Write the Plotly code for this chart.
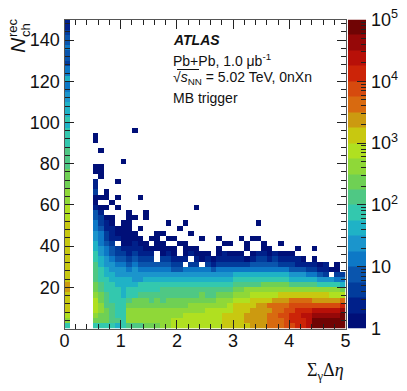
import plotly.graph_objects as go

W, H = 407, 391
FONT = "Liberation Sans"

# colour steps of the palette, bottom of the scale first (4 steps per decade)
level_colors = ['#000f78', '#00208a', '#023c9c', '#0a55ad', '#0d78c6', '#1b95cc', '#1fb2c6',
                '#33c8ae', '#4fc884', '#6fd054', '#8fd838', '#b0e020', '#c8c810', '#cc9a10',
                '#d86a10', '#d64a0e', '#cc2408', '#b81008', '#960808', '#700404']

x_edges = [i / 10 for i in range(51)]
y_edges = [i * 2.5 for i in range(61)]

# bin at sum-gap 0 - 0.1, from Nch = 0 upward (palette step of each bin)
gap0_levels = [7, 10, 11, 12, 12, 12, 12, 13, 13, 12, 12, 12, 12, 12, 12, 12, 12, 12, 12, 12,
               12, 11, 11, 11, 10, 10, 10, 9, 9, 9, 9, 8, 8, 8, 8, 7, 7, 7, 7, 6,
               7, 6, 6, 6, 5, 5, 4, 4, 6, 4, 4, 2, 3, 3, 4, 3, 3, 2, 1, 1]

# bins from sum-gap 0.5 to 5, lowest Nch row first, palette step in base 36, "." = empty
main_rows = [
    "77776 78889 99aab bbbbb bbbcc cccdd deeef fgghj jjjjj",
    "99988 7aaaa aaaab bbbbb bbbcc ccddd deeef ggghj jjjjj",
    "a9987 7aaaa aaaaa abbbb bbbcc ccddd deeff gghhi iiiij",
    "ba987 7aaaa aaaaa aaaaa bbbbb cccdd ddeef fgggh hhhhi",
    "ba887 79999 99999 99aaa aaaab ccccd deeee fffff ffffg",
    "b9877 78999 89899 99999 99aaa bbbcc ccddd eeeed dddde",
    "a9877 67788 88888 88889 88999 aaabb bbbcc ccccc ccbbb",
    "98777 67777 77888 88888 88888 99aaa aaaaa aaaaa aaaa9",
    "98776 66677 77777 77777 77777 88888 99999 88888 77776",
    "87766 66556 66666 66666 66666 77777 77777 66666 55544",
    "87665 55555 55555 55555 55555 66666 66666 55544 32.22",
    "87655 54544 44443 34444 43444 44444 44444 33322 1100.",
    "86554 43433 33332 2.22. 21222 22233 33322 21111 01.0.",
    "76543 32322 2.221 11.10 10111 11012 21211 110.0",
    "75432 21211 1.010 .0100 0.010 00.01 10100 0....",
    "65432 11110 00000 .000. ..0.. ..0.. 00... .0..0",
    "6432. 00100 .00.. 00... ...00 ..0.. 0..0.",
    "54211 0000. 00.00 ....0 ..0.. .0.00",
    "54210 000.. .00.. ..0..",
    "43110 00.0. ..... 0....",
    "4210. 00... ...0. .0... ..... ....0",
    "3200. .00.0",
    "31... .0..0",
    "100.0 ..... ..... ...0.",
    "0..0.",
    "000.0 ...0.",
    "2.0..",
    "1....",
    "1...0",
    ".0...",
    "00...",
    "00...",
    "..... 0....",
    "",
    ".0...",
    "",
    "0....",
    "0....",
    "..... ..0..",
]

x_ticks = [0, 1, 2, 3, 4, 5]
y_ticks = [20, 40, 60, 80, 100, 120, 140]
z_ticks = [1, 10, 100, 1000, 10000, 100000]
z_tick_text = ["1", "10", "10<sup>2</sup>", "10<sup>3</sup>", "10<sup>4</sup>", "10<sup>5</sup>"]
z_minor = [m * d for d in z_ticks[:-1] for m in range(2, 10)]


def level_to_z(level):
    return (level + 0.5) / 4


# one row of z per Nch bin
z = []
for r in range(len(y_edges) - 1):
    row = [level_to_z(gap0_levels[r]), None, None, None, None]
    text = main_rows[r].replace(" ", "") if r < len(main_rows) else ""
    for ch in text.ljust(45, "."):
        row.append(None if ch == "." else level_to_z(int(ch, 36)))
    z.append(row)

n = len(level_colors)
colorscale = []
for i, c in enumerate(level_colors):
    colorscale += [[i / n, c], [(i + 1) / n, c]]


def px(x):
    return x / W


def py(y):
    return 1 - y / H


fig = go.Figure()
fig.add_trace(go.Heatmap(x=x_edges, y=y_edges, z=z, zmin=0, zmax=5, colorscale=colorscale,
                         showscale=False, hoverongaps=False))
# palette strip drawn as its own log axis so it can carry minor ticks
bar_edges = [10 ** (i / 4) for i in range(n + 1)]
fig.add_trace(go.Heatmap(x=[0, 1], y=bar_edges, z=[[level_to_z(i)] for i in range(n)],
                         zmin=0, zmax=5, colorscale=colorscale, showscale=False,
                         xaxis="x2", yaxis="y2"))

axis_line = dict(showline=True, linecolor="#555555", linewidth=1, showgrid=False, zeroline=False,
                 ticks="inside", tickcolor="#222222", tickwidth=1, mirror="ticks", automargin=False,
                 tickfont=dict(family=FONT, size=18, color="#111111"))

fig.update_layout(
    template="none",
    width=W,
    height=H,
    margin=dict(l=0, r=0, t=0, b=0),
    paper_bgcolor="white",
    plot_bgcolor="white",
    showlegend=False,
    font=dict(family=FONT, color="#111111"),
    xaxis=dict(domain=[px(64.5), px(345.5)], range=[0, 5], tickvals=x_ticks, ticklen=9,
               ticklabelstandoff=-4,
               minor=dict(ticks="inside", dtick=0.2, ticklen=5, tickcolor="#222222", showgrid=False),
               **axis_line),
    yaxis=dict(domain=[py(328.5), py(19.5)], range=[0, 150], tickvals=y_ticks, ticklen=9,
               minor=dict(ticks="inside", dtick=4, ticklen=5, tickcolor="#222222", showgrid=False),
               **axis_line),
    xaxis2=dict(domain=[px(348), px(366)], range=[0, 1], showticklabels=False, showgrid=False,
                zeroline=False, ticks="", anchor="y2", automargin=False),
    yaxis2=dict(domain=[py(328.5), py(19.5)], type="log", range=[0, 5], side="right", anchor="x2",
                tickvals=z_ticks, ticktext=z_tick_text, ticks="inside", ticklen=9, showgrid=False,
                zeroline=False, tickcolor="#222222", automargin=False, ticklabelstandoff=4,
                tickfont=dict(family=FONT, size=18, color="#111111"),
                minor=dict(ticks="inside", tickvals=z_minor, ticklen=5, tickcolor="#222222",
                           showgrid=False)),
)

texts = [
    ("<b><i>ATLAS</i></b>", 171, 40, 14),
    ("Pb+Pb, 1.0 μb<sup>-1</sup>", 171, 60, 14),
    ("√<i>s</i><sub>NN</sub> = 5.02 TeV, 0nXn", 171, 78, 14),
    ("MB trigger", 171, 98, 14),
]
for label, x, y, size in texts:
    fig.add_annotation(text=label, x=px(x), y=py(y), xref="paper", yref="paper", showarrow=False,
                       xanchor="left", yanchor="middle", font=dict(family=FONT, size=size, color="#111111"))

# bar over s_NN
fig.add_shape(type="line", xref="paper", yref="paper", x0=px(177), x1=px(199), y0=py(69.5), y1=py(69.5),
              line=dict(color="#111111", width=1))

# rotated y title, pieces placed one by one
for label, x, y, size, style in [("N", 18, 45, 21, "italic"), ("rec", 12, 28, 13, "normal"), ("ch", 26, 30, 13, "normal")]:
    fig.add_annotation(text=label, x=px(x), y=py(y), xref="paper", yref="paper", showarrow=False,
                       textangle=-90, xanchor="center", yanchor="middle",
                       font=dict(family=FONT, size=size, color="#111111", style=style))

fig.add_annotation(text="Σ<sub>γ</sub>Δ<i>η</i>", x=px(346), y=py(371), xref="paper", yref="paper",
                   showarrow=False, xanchor="right", yanchor="middle",
                   font=dict(family="Liberation Serif", size=18, color="#111111"))

# page body has a default margin, take it off so the figure sits at 0,0
fig.write_html("out.html", config={"displayModeBar": False},
               post_script="document.body.style.margin='0';")
